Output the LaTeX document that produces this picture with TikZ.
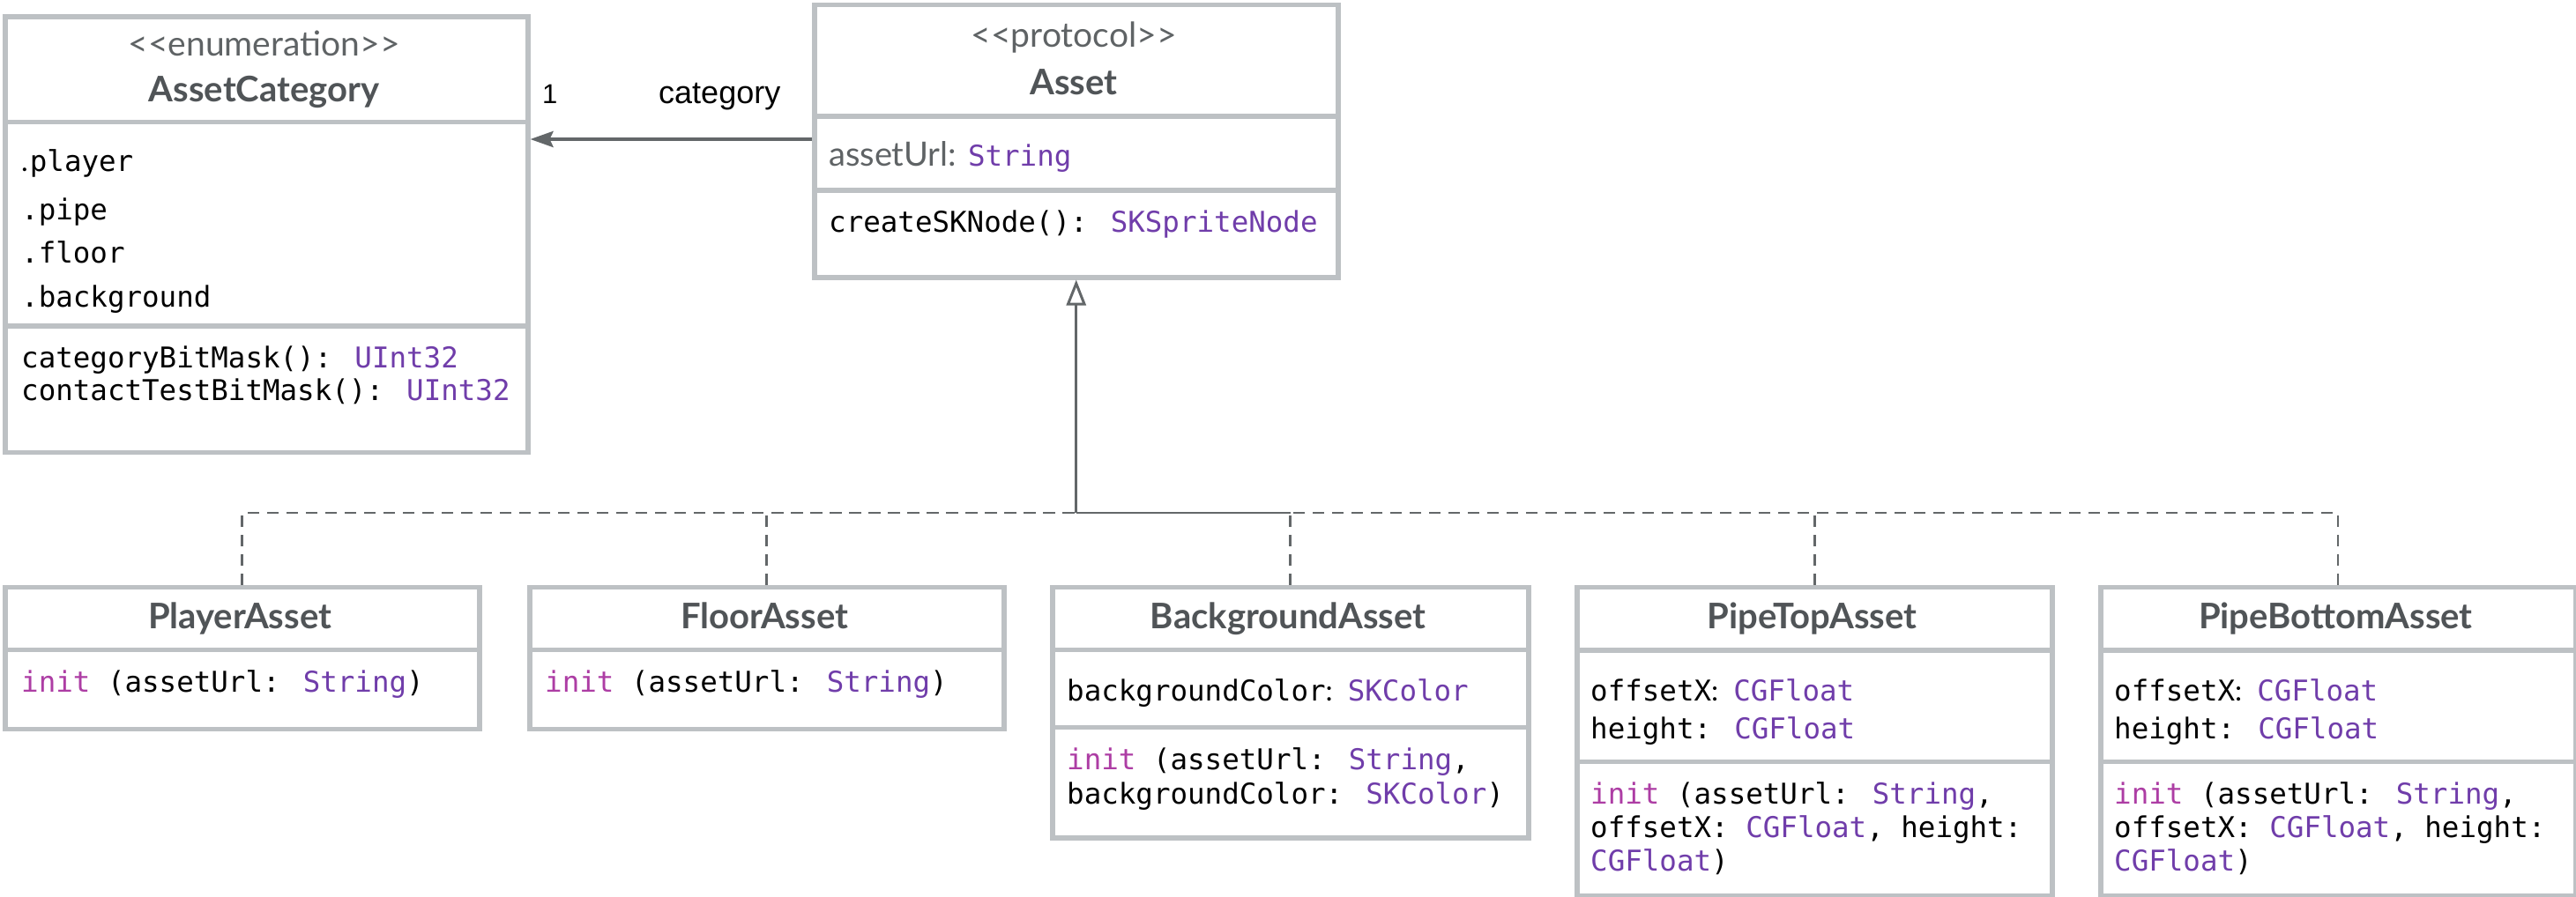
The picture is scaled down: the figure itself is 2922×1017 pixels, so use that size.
\documentclass[tikz,border=0pt]{standalone}
\usepackage{fontspec}
\setmainfont{Lato}
\newfontfamily\latof{Lato}
\newfontfamily\monof{DejaVu Sans Mono}
\newfontfamily\helvf{Liberation Sans}
\usetikzlibrary{arrows.meta}
\definecolor{boxcol}{RGB}{189,193,196}
\definecolor{linecol}{RGB}{99,103,105}
\definecolor{titlecol}{RGB}{80,84,87}
\definecolor{stercol}{RGB}{95,99,101}
\definecolor{typecol}{RGB}{112,61,170}
\definecolor{kwcol}{RGB}{173,61,164}
\newcommand\tyC[1]{\textcolor{typecol}{#1}}
\newcommand\kwC[1]{\textcolor{kwcol}{#1}}
\newcommand\scol{{\latof:}\hspace{17pt}}
\tikzset{
  umlbox/.style={draw=boxcol, line width=5.5pt, fill=white, rectangle, inner sep=0pt, anchor=north west},
  compline/.style={draw=boxcol, line width=5.5pt},
  stertxt/.style={font=\latof\fontsize{39}{47}\selectfont, text=stercol, inner sep=0pt, anchor=base},
  titletxt/.style={font=\latof\bfseries\fontsize{40}{48}\selectfont, text=titlecol, inner sep=0pt, anchor=base},
  monotxt/.style={font=\monof\fontsize{32.5}{39}\selectfont, text=black, inner sep=0pt, anchor=base west},
  lbltxt/.style={font=\helvf\fontsize{36}{43}\selectfont, text=black, inner sep=0pt, anchor=base west},
  conn/.style={draw=linecol, line width=4pt},
  realize/.style={draw=linecol, line width=2.8pt, dash pattern=on 13pt off 9pt},
}
\begin{document}
\begin{tikzpicture}[x=1pt,y=-1pt]
\useasboundingbox (0,0) rectangle (2922,1017);
\fill[white] (0,0) rectangle (2922,1017);

% ---- boxes
\node[umlbox, minimum width=593pt, minimum height=494.5pt] (ac) at (3,16) {};
\node[umlbox, minimum width=594pt, minimum height=309.5pt] (as) at (921,2.5) {};
\node[umlbox, minimum width=538pt, minimum height=161pt] (pa) at (3,663.5) {};
\node[umlbox, minimum width=538pt, minimum height=161pt] (fa) at (598,663.5) {};
\node[umlbox, minimum width=540pt, minimum height=284.5pt] (ba) at (1191,663.5) {};
\node[umlbox, minimum width=539pt, minimum height=350.5pt] (pt) at (1786,663.5) {};
\node[umlbox, minimum width=538.5pt, minimum height=350.5pt] (pb) at (2380,663.5) {};

% ---- compartments
\draw[compline] (3,138.5) -- (596,138.5);
\draw[compline] (3,370) -- (596,370);
\draw[compline] (921,132) -- (1515,132);
\draw[compline] (921,216) -- (1515,216);
\draw[compline] (3,737.5) -- (541,737.5);
\draw[compline] (598,737.5) -- (1136,737.5);
\draw[compline] (1191,737.5) -- (1731,737.5);
\draw[compline] (1191,825.5) -- (1731,825.5);
\draw[compline] (1786,738) -- (2325,738);
\draw[compline] (1786,864.5) -- (2325,864.5);
\draw[compline] (2380,738) -- (2918.5,738);
\draw[compline] (2380,864.5) -- (2918.5,864.5);

% ---- AssetCategory
\node[stertxt] (acS) at (299.5,63) {<\kern0pt<enumeration>\kern0pt>};
\node[titletxt] (acT) at (299.5,115) {AssetCategory};
\node[monotxt] (ac1) at (24,194) {{\latof.}\hspace{2pt}player};
\node[monotxt] (ac2) at (24,249) {.pipe};
\node[monotxt] (ac3) at (24,298) {.floor};
\node[monotxt] (ac4) at (24,348) {.background};
\node[monotxt] (ac5) at (24,417) {categoryBitMask(): \tyC{UInt32}};
\node[monotxt] (ac6) at (24,454) {contactTestBitMask(): \tyC{UInt32}};

% ---- Asset
\node[stertxt] (asS) at (1218,53) {<\kern0pt<protocol>\kern0pt>};
\node[titletxt] (asT) at (1218,107) {Asset};
\node[monotxt] (as1) at (940,188) {{\latof\color{stercol}\fontsize{38}{44}\selectfont assetUrl:}\hspace{13pt}\tyC{String}};
\node[monotxt] (as2) at (940,263) {createSKNode(): \tyC{SKSpriteNode}};

% ---- children
\node[titletxt] (paT) at (272,713) {PlayerAsset};
\node[monotxt] (pa1) at (24,785) {\kwC{init} (assetUrl: \tyC{String})};

\node[titletxt] (faT) at (867,713) {FloorAsset};
\node[monotxt] (fa1) at (618,785) {\kwC{init} (assetUrl: \tyC{String})};

\node[titletxt] (baT) at (1461,713) {BackgroundAsset};
\node[monotxt] (ba1) at (1210,795) {backgroundColor\scol\tyC{SKColor}};
\node[monotxt] (ba2) at (1210,873) {\kwC{init} (assetUrl: \tyC{String},};
\node[monotxt] (ba3) at (1210,912) {backgroundColor: \tyC{SKColor})};

\node[titletxt] (ptT) at (2055.5,713) {PipeTopAsset};
\node[monotxt] (pt1) at (1804,795) {offsetX\scol\tyC{CGFloat}};
\node[monotxt] (pt2) at (1804,838) {height: \tyC{CGFloat}};
\node[monotxt] (pt3) at (1804,912) {\kwC{init} (assetUrl: \tyC{String},};
\node[monotxt] (pt4) at (1804,950) {offsetX: \tyC{CGFloat}, height:};
\node[monotxt] (pt5) at (1804,988) {\tyC{CGFloat})};

\node[titletxt] (pbT) at (2649.25,713) {PipeBottomAsset};
\node[monotxt] (pb1) at (2398,795) {offsetX\scol\tyC{CGFloat}};
\node[monotxt] (pb2) at (2398,838) {height: \tyC{CGFloat}};
\node[monotxt] (pb3) at (2398,912) {\kwC{init} (assetUrl: \tyC{String},};
\node[monotxt] (pb4) at (2398,950) {offsetX: \tyC{CGFloat}, height:};
\node[monotxt] (pb5) at (2398,988) {\tyC{CGFloat})};

% ---- association
\coordinate (assocy) at (0,158);
\draw[conn, -{Stealth[length=26pt, width=18pt, inset=4pt]}] (as.west |- assocy) -- (ac.east |- assocy);
\node[lbltxt, font=\helvf\fontsize{31}{37}\selectfont] (mult) at (615,117) {1};
\node[lbltxt] (role) at (747,117) {category};

% ---- realizations
\coordinate (busy) at (0,582);
\coordinate (j) at (as.south |- busy);
\draw[realize] (pa.north) |- (j);
\draw[realize] (fa.north) |- (j);
\draw[realize] (ba.north) -- (ba.north |- busy);
\draw[draw=linecol, line width=2.8pt] (ba.north |- busy) -- (j);
\draw[realize] (pt.north) |- (j);
\draw[realize] (pb.north) |- (j);
\draw[draw=linecol, line width=3pt, -{Triangle[open, fill=white, length=29pt, width=22pt, line width=3pt]}] (j) -- (as.south);
\end{tikzpicture}
\end{document}
